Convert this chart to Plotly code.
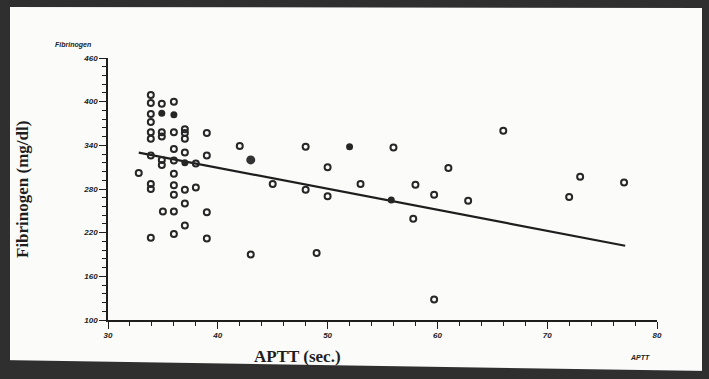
import plotly.graph_objects as go

# APTT (sec.) vs Fibrinogen (mg/dl) - open markers
aptt_open = [33.9, 33.9, 34.9, 36.0, 33.9, 33.9, 33.9, 34.9, 36.0, 37.0, 37.0, 33.9, 34.9, 37.0,
             39.0, 42.0, 48.0, 56.0, 66.0, 36.0, 37.0, 39.0, 33.9, 34.9, 34.9, 36.0, 38.0,
             32.8, 36.0, 50.0, 61.0, 33.9, 33.9, 36.0, 36.0, 37.0, 38.0, 45.0, 48.0, 50.0,
             53.0, 58.0, 59.7, 62.8, 57.8, 37.0, 35.0, 36.0, 39.0, 37.0, 33.9, 36.0, 39.0,
             43.0, 49.0, 59.7, 72.0, 73.0, 77.0]
fib_open = [409, 398, 397, 400, 383, 372, 358, 358, 358, 362, 357, 349, 352, 349,
            357, 339, 338, 337, 360, 335, 330, 326, 326, 320, 313, 319, 315,
            302, 301, 310, 309, 287, 280, 285, 272, 279, 282, 287, 279, 270,
            287, 286, 272, 264, 239, 260, 249, 249, 248, 230, 213, 218, 212,
            190, 192, 128, 269, 297, 289]

# filled markers
aptt_filled = [34.9, 36.0, 37.0, 52.0, 55.8]
fib_filled = [384, 382, 316, 338, 265]
aptt_big = [43.0]
fib_big = [320]

# regression line
fit_x = [32.8, 77.1]
fit_y = [330, 202]

x_ticks = [30, 40, 50, 60, 70, 80]
y_ticks = [100, 160, 220, 280, 340, 400, 460]

W, H = 709, 379
L, R, T, B = 108, 52, 58, 59
pw, ph = W - L - R, H - T - B

def px(x):
    return (x - L) / pw

def py(y):
    return (H - B - y) / ph

fig = go.Figure()
fig.add_trace(go.Scatter(x=fit_x, y=fit_y, mode="lines",
                         line=dict(color="#1e1e1e", width=2.2), hoverinfo="skip"))
fig.add_trace(go.Scatter(x=aptt_open, y=fib_open, mode="markers",
                         marker=dict(symbol="circle-open", size=6, color="#262626",
                                     line=dict(width=2, color="#262626"))))
fig.add_trace(go.Scatter(x=aptt_filled, y=fib_filled, mode="markers",
                         marker=dict(symbol="circle", size=7, color="#262626")))
fig.add_trace(go.Scatter(x=aptt_big, y=fib_big, mode="markers",
                         marker=dict(symbol="circle", size=9, color="#333333")))

tickfont = dict(family="Liberation Sans", size=8, color="#222", style="italic", weight="bold")

fig.update_xaxes(range=[30, 80], tickvals=x_ticks, ticktext=[str(v) for v in x_ticks],
                 showgrid=False, zeroline=False, showline=True, linecolor="#1e1e1e",
                 linewidth=1.6, ticks="outside", ticklen=7, tickwidth=1.4, tickcolor="#1e1e1e",
                 minor=dict(dtick=2, tick0=30, ticks="outside", ticklen=4, tickwidth=1.2,
                            tickcolor="#1e1e1e", showgrid=False),
                 tickfont=tickfont)
fig.update_yaxes(range=[100, 460], tickvals=y_ticks, ticktext=[str(v) for v in y_ticks],
                 showgrid=False, zeroline=False, showline=True, linecolor="#1e1e1e",
                 linewidth=1.6, ticks="outside", ticklen=7, tickwidth=1.4, tickcolor="#1e1e1e",
                 minor=dict(dtick=12, tick0=100, ticks="outside", ticklen=4, tickwidth=1.2,
                            tickcolor="#1e1e1e", showgrid=False),
                 tickfont=tickfont)

border = "#2f2f2f"

def poly(points):
    return "M " + " L ".join(f"{px(a):.5f},{py(b):.5f}" for a, b in points) + " Z"

frame_polys = [
    [(0, 0), (W, 0), (W, 8), (0, 7)],                 # top
    [(0, 360), (W, 371), (W, H), (0, H)],             # bottom (dark band, tilted)
    [(0, 0), (10, 0), (10, 367), (0, 367)],           # left
    [(702, 0), (W, 0), (W, H), (702, H)],             # right
]
shapes = [dict(type="path", xref="paper", yref="paper", path=poly(p),
               fillcolor=border, line=dict(width=0), layer="above") for p in frame_polys]
# light strip under the bottom band (paper beyond the frame)
shapes.append(dict(type="path", xref="paper", yref="paper",
                   path=poly([(10, 367), (W - 7, 378), (W - 7, H), (10, H)]),
                   fillcolor="#f4f4f2", line=dict(width=0), layer="above"))
shapes[-1], shapes[1] = shapes[1], shapes[-1]
fig.update_layout(shapes=[s for s in shapes])

annotations = [
    dict(text="<b>Fibrinogen (mg/dl)</b>", xref="paper", yref="paper", x=px(22), y=py(190),
         textangle=-90, showarrow=False, xanchor="center", yanchor="middle",
         font=dict(family="Liberation Serif", size=17, color="#1e1e1e")),
    dict(text="<b>APTT (sec.)</b>", xref="paper", yref="paper", x=px(297), y=py(356),
         showarrow=False, xanchor="center", yanchor="middle",
         font=dict(family="Liberation Serif", size=17, color="#1e1e1e")),
    dict(text="<b><i>Fibrinogen</i></b>", xref="paper", yref="paper", x=px(73), y=py(45),
         showarrow=False, xanchor="center", yanchor="middle",
         font=dict(family="Liberation Sans", size=7, color="#222")),
    dict(text="<b><i>APTT</i></b>", xref="paper", yref="paper", x=px(640), y=py(357),
         showarrow=False, xanchor="center", yanchor="middle",
         font=dict(family="Liberation Sans", size=7, color="#222")),
]

fig.update_layout(width=W, height=H, margin=dict(l=L, r=R, t=T, b=B),
                  paper_bgcolor="#fbfbfa", plot_bgcolor="#fbfbfa",
                  showlegend=False, annotations=annotations)

fig.write_html("out.html", config={"displayModeBar": False},
               post_script="document.body.style.margin='0';document.body.style.overflow='hidden';")
